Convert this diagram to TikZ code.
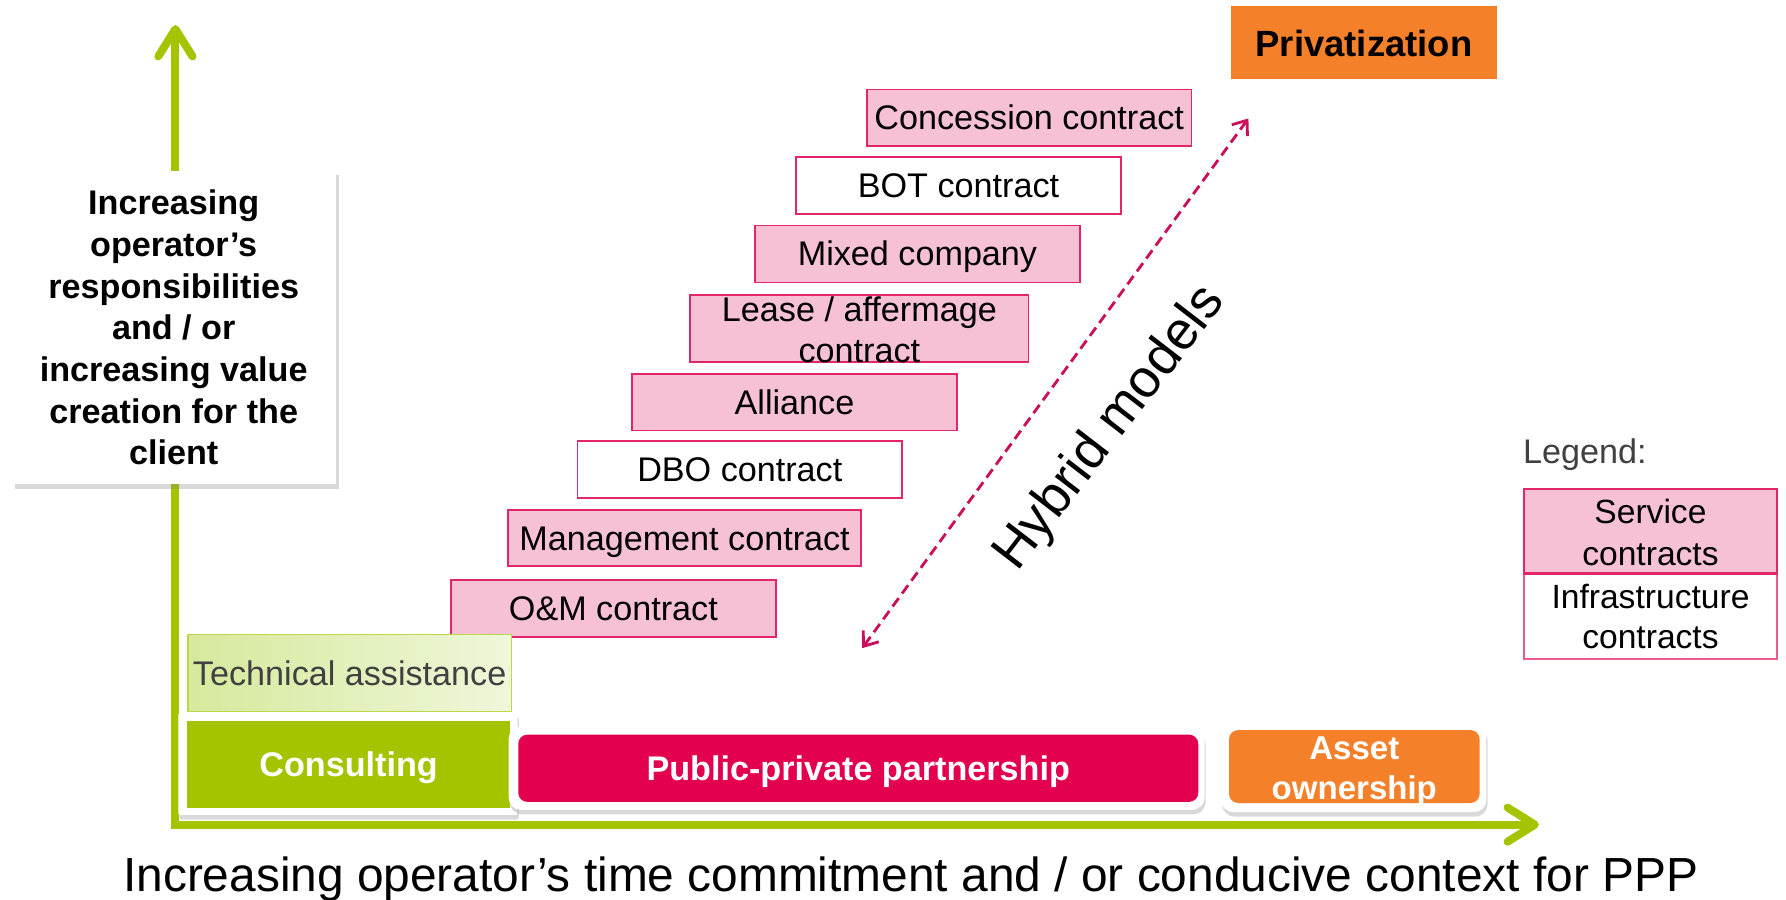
\documentclass[tikz,border=0pt]{standalone}
\usepackage{fontspec}
\setmainfont{Liberation Sans}
\usetikzlibrary{arrows.meta,shadows}
\definecolor{axisgreen}{HTML}{A5C400}
\definecolor{pinkfill}{HTML}{F6C0D5}
\definecolor{pinkline}{HTML}{E3266C}
\definecolor{pppred}{HTML}{E2004F}
\definecolor{orangeb}{HTML}{F5802A}
\definecolor{dashcol}{HTML}{C8105C}
\definecolor{taline}{HTML}{BCD74A}
\definecolor{tadark}{HTML}{D6E99C}
\definecolor{talight}{HTML}{EEF7DA}
\definecolor{greytext}{HTML}{404040}
\begin{document}
\begin{tikzpicture}[x=1pt,y=-1pt,
  txt/.style={font=\fontsize{30}{36}\selectfont, text height=21pt, text depth=0pt, inner sep=0pt},
  svc/.style={txt, draw=pinkline, line width=1.6pt, fill=pinkfill, minimum width=285pt, minimum height=50pt},
  infra/.style={svc, fill=white},
  axis/.style={draw=axisgreen, line width=7pt, line join=miter,
    {Straight Barb[length=24pt,width=30pt,round]}-{Straight Barb[length=24pt,width=30pt,round]}},
  frame/.style={fill=white, rounded corners=11pt, inner sep=0pt,
    drop shadow={opacity=0.3, shadow xshift=1pt, shadow yshift=-4pt}},
  boldwhite/.style={font=\fontsize{30}{35}\selectfont\bfseries, text=white, align=center},
]
\useasboundingbox (0,0) rectangle (1568,790);

% axes
\coordinate (origin) at (154,724);
\coordinate (ytip) at (154,22);
\coordinate (xtip) at (1351,724);
\draw[axis] (ytip) -- (origin) -- (xtip);

% y-axis label
\node[fill=white, minimum width=285pt, minimum height=275pt, inner sep=0pt, align=center,
      font=\fontsize{30}{36.6}\selectfont\bfseries,
      drop shadow={opacity=0.3, shadow xshift=3pt, shadow yshift=-4pt}]
  (ylab) at (152.5,287.5)
  {Increasing\\operator’s\\responsibilities\\and / or\\increasing value\\creation for the\\client};

% x-axis label
\node[font=\fontsize{42}{50}\selectfont, anchor=base west, inner sep=0pt] (xlab) at (108,783)
  {Increasing operator’s time commitment and / or conducive context for PPP};

% privatization
\node[fill=orangeb, minimum width=233pt, minimum height=64pt, inner sep=0pt,
      font=\fontsize{32}{38}\selectfont\bfseries, text height=24.6pt, text depth=0pt]
  (priv) at (1197.5,37.5) {Privatization};

% contract boxes
\node[svc] (conc) at (903.5,103.5) {Concession contract};
\node[infra] (bot) at (841.5,163) {BOT contract};
\node[svc] (mixed) at (805.5,223) {Mixed company};
\node[svc, minimum width=297pt, minimum height=59pt] (lease) at (754.5,288.5) {};
\node[font=\fontsize{30}{35.3}\selectfont, align=center, inner sep=0pt] (leasetxt) at (754.5,289.5)
  {Lease / affermage\\contract};
\node[svc] (alliance) at (697.5,353) {Alliance};
\node[infra] (dbo) at (649.5,412) {DBO contract};
\node[svc, minimum width=310pt, minimum height=49pt] (mgmt) at (601,472.5) {Management contract};
\node[svc] (om) at (538.5,534) {O\&M contract};

% technical assistance
\node[txt, draw=taline, line width=1pt, left color=tadark, right color=talight,
      minimum width=284pt, minimum height=68pt, text=greytext]
  (ta) at (307,591) {Technical assistance};

% consulting
\node[frame, rounded corners=2pt, minimum width=298pt, minimum height=90pt] (consframe) at (305.5,670.5) {};
\node[txt, fill=axisgreen, minimum width=284pt, minimum height=76pt, font=\fontsize{30}{36}\selectfont\bfseries, text=white]
  (cons) at (306,671) {Consulting};

% PPP
\node[frame, minimum width=611pt, minimum height=73pt] (pppframe) at (752,674.5) {};
\node[txt, fill=pppred, rounded corners=8pt, minimum width=597pt, minimum height=59pt,
      font=\fontsize{30}{36}\selectfont\bfseries, text=white]
  (ppp) at (753.5,674.5) {Public-private partnership};

% asset ownership
\node[frame, minimum width=233pt, minimum height=78pt] (assetframe) at (1188.5,674) {};
\node[fill=orangeb, rounded corners=8pt, minimum width=220pt, minimum height=64pt, inner sep=0pt]
  (asset) at (1189,673) {};
\begin{scope}
  \clip (asset.south west) rectangle (asset.north east);
  \node[boldwhite, font=\fontsize{29}{35}\selectfont\bfseries, inner sep=0pt] (assettxt) at (1189,677.5) {Asset\\ownership};
\end{scope}

% hybrid models
\coordinate (hlow) at (757,569);
\coordinate (hhigh) at (1096,104);
\draw[dashcol, line width=2.5pt, dash pattern=on 9pt off 5pt,
      {Straight Barb[length=11pt,width=17pt]}-{Straight Barb[length=11pt,width=17pt]}]
  (hlow) -- (hhigh);
\node[font=\fontsize{47}{56}\selectfont, anchor=base west, rotate=52.4, inner sep=0pt]
  (hybrid) at (893,503) {Hybrid models};

% legend
\node[font=\fontsize{30}{36}\selectfont, text=greytext, anchor=base west, inner sep=0pt]
  (legendtitle) at (1337,406.6) {Legend:};
\node[draw=pinkline, line width=1.3pt, fill=pinkfill, minimum width=222pt, minimum height=74pt, inner sep=0pt]
  (legsvc) at (1449,466.2) {};
\node[font=\fontsize{29.5}{36.5}\selectfont, align=center, inner sep=0pt] (legsvctxt) at (1449,467.5) {Service\\contracts};
\node[draw=pinkline!75, line width=1.3pt, fill=white, minimum width=222pt, minimum height=74pt, inner sep=0pt,
      anchor=north] (leginf) at (legsvc.south) {};
\node[font=\fontsize{29.5}{35}\selectfont, align=center, inner sep=0pt] (leginftxt) at (1449,541) {Infrastructure\\contracts};
\draw[pinkline, line width=1.3pt] (legsvc.south west) -- (legsvc.south east);
\end{tikzpicture}
\end{document}
